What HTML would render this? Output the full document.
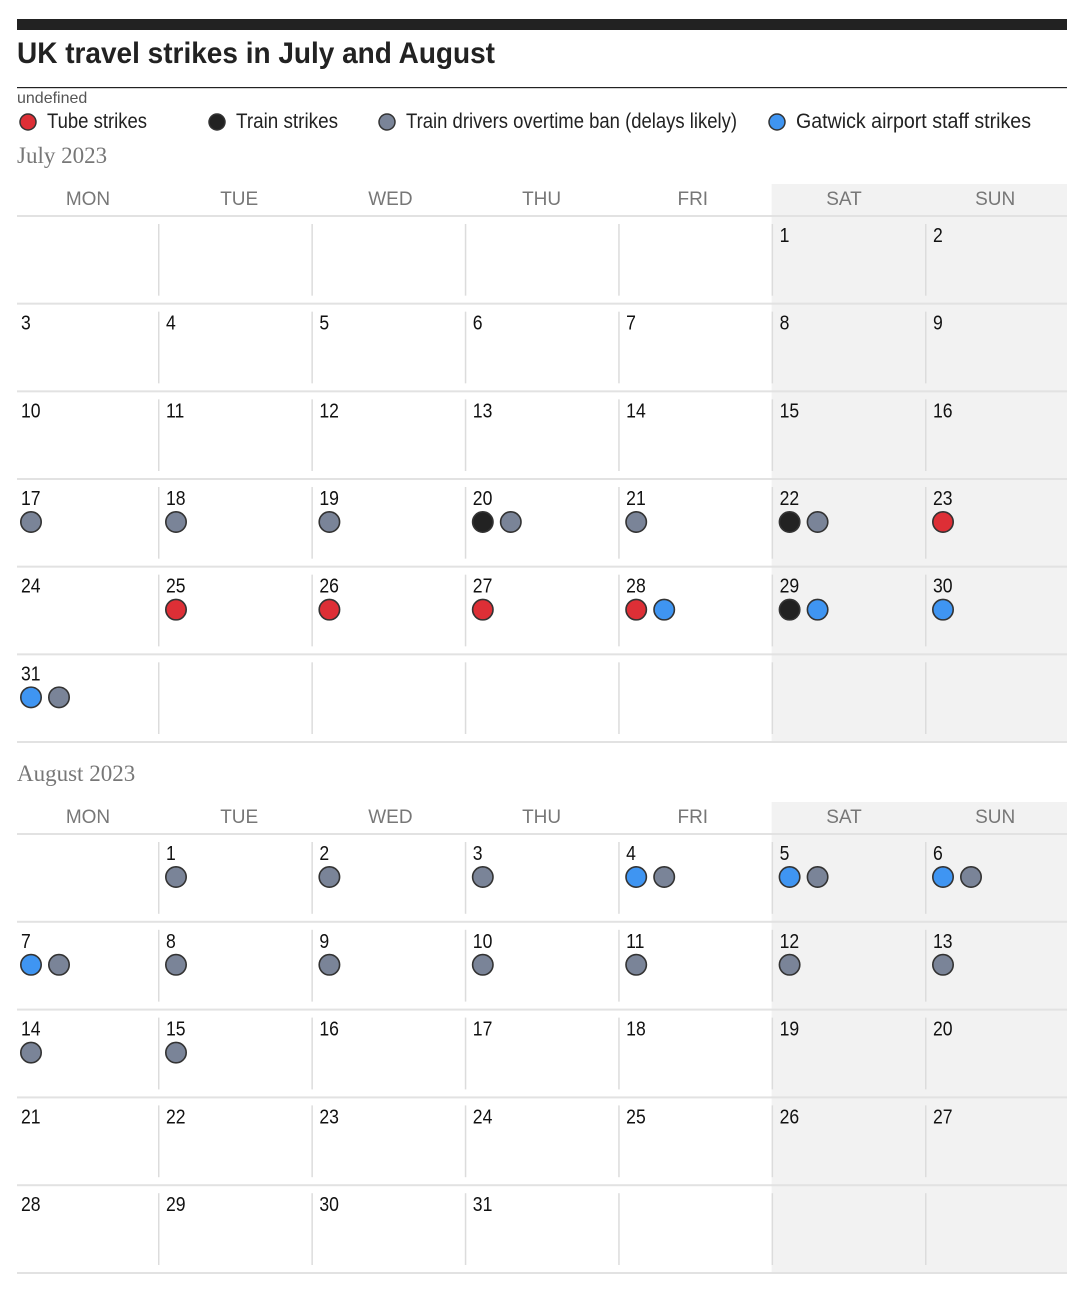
<!DOCTYPE html>
<html><head><meta charset="utf-8"><style>
html,body{margin:0;padding:0;background:#fff}
svg{display:block}
.cond{font-family:"Liberation Sans Narrow","Liberation Sans",sans-serif}
</style></head><body>
<svg id="chart" width="1080" height="1295" viewBox="0 0 1080 1295" xmlns="http://www.w3.org/2000/svg">
<rect x="17" y="19" width="1050" height="11" fill="#222"/>
<text x="17" y="63" font-family="Liberation Sans, sans-serif" font-weight="bold" font-size="30" fill="#222" textLength="478" lengthAdjust="spacingAndGlyphs">UK travel strikes in July and August</text>
<rect x="17" y="87" width="1050" height="1.2" fill="#222"/>
<text x="17" y="103" font-family="Liberation Sans, sans-serif" font-size="16" fill="#555">undefined</text>
<g id="legend"></g>
<g id="cal"></g>
</svg>
<script>
const typeNames = ['tube', 'train', 'overtime', 'gatwick'];
const typeColors = ['#dd2f36', '#222222', '#7a8498', '#3f95f2'];
const legendLabels = ['Tube strikes', 'Train strikes', 'Train drivers overtime ban (delays likely)', 'Gatwick airport staff strikes'];
const dayLabels = ['MON','TUE','WED','THU','FRI','SAT','SUN'];
const monthTitles = ['July 2023', 'August 2023'];
const monthOffsets = [5, 1];
const monthLengths = [31, 31];
// events per day: type indices (0 tube,1 train,2 overtime,3 gatwick)
const julyDays = [17,18,19,20,20,21,22,22,23,25,26,27,28,28,29,29,30,31,31];
const julyTypes = [2,2,2,1,2,2,1,2,0,0,0,0,0,3,1,3,3,3,2];
const augDays = [1,2,3,4,4,5,5,6,6,7,7,8,9,10,11,12,13,14,15];
const augTypes = [2,2,2,3,2,3,2,3,2,3,2,2,2,2,2,2,2,2,2];

const NS = 'http://www.w3.org/2000/svg';
function mk(tag, attrs, parent){const e=document.createElementNS(NS,tag);for(const k in attrs)e.setAttribute(k,attrs[k]);parent.appendChild(e);return e;}

const leg = document.getElementById('legend');
const legX = [28, 217, 387, 777];
const legW = [100, 102, 331, 235];
legendLabels.forEach((lab,i)=>{
  const c = mk('circle',{cx:legX[i],cy:122,r:8,fill:typeColors[i],stroke:'#333','stroke-width':1.5},leg);
  
  
  const t = mk('text',{x:legX[i]+19,y:128,'font-size':21,fill:'#222',class:'cond',textLength:legW[i],lengthAdjust:'spacingAndGlyphs'},leg);
  t.textContent = lab;
  
  
});

const cal = document.getElementById('cal');
const L = 17, R = 1067;
const colX = i => i===0 ? L : 158 + 153.4*(i-1);
const colCenter = i => 88 + 151.2*i;
const layouts = [{title:155, head:184, top:216, bottom:742},{title:773, head:802, top:834, bottom:1273}];
const monthDays = [julyDays, augDays];
const monthTypes = [julyTypes, augTypes];

layouts.forEach((lay,m)=>{
  const g = mk('g',{},cal);
  
  
  const rows = Math.ceil((monthOffsets[m]+monthLengths[m])/7);
  const rh = (lay.bottom-lay.top)/rows;
  const wk = mk('rect',{x:colX(5),y:lay.head,width:R-colX(5),height:lay.bottom-lay.head,fill:'#f2f2f2'},g);
  
  
  const tt = mk('text',{x:L,y:lay.title+8,'font-family':'Liberation Serif, serif','font-size':23,fill:'#777'},g);
  tt.textContent = monthTitles[m];
  
  
  dayLabels.forEach((d,i)=>{
    const t = mk('text',{x:colCenter(i),y:lay.head+21,'text-anchor':'middle','font-size':19,fill:'#777',class:'cond'},g);
    t.textContent = d;
    
    
  });
  for(let r=0;r<=rows;r++){
    const ln = mk('rect',{x:L,y:lay.top+r*rh-1,width:R-L,height:2,fill:'#e2e2e2'},g);
    
    
    if(r<rows){
      for(let c=1;c<7;c++){
        const v = mk('rect',{x:colX(c),y:lay.top+r*rh+8,width:1.5,height:rh-16,fill:'#dcdcdc'},g);
        
        
      }
    }
  }
  for(let d=1; d<=monthLengths[m]; d++){
    const idx = monthOffsets[m]+d-1;
    const r = Math.floor(idx/7), c = idx%7;
    const x0 = c===0 ? L+4 : colX(c)+8;
    const y0 = lay.top + r*rh;
    const t = mk('text',{x:x0,y:y0+26,'font-size':20,fill:'#111',class:'cond',transform:'translate('+x0+' 0) scale(0.88 1) translate('+(-x0)+' 0)'},g);
    t.textContent = d;
    
    
    let k = 0;
    monthDays[m].forEach((dd,j)=>{
      if(dd!==d) return;
      const ty = monthTypes[m][j];
      const dot = mk('circle',{cx:x0+10+k*28,cy:y0+43,r:10.2,fill:typeColors[ty],stroke:'#333','stroke-width':1.6},g);
      
      
      k++;
    });
  }
});
</script>
</body></html>
